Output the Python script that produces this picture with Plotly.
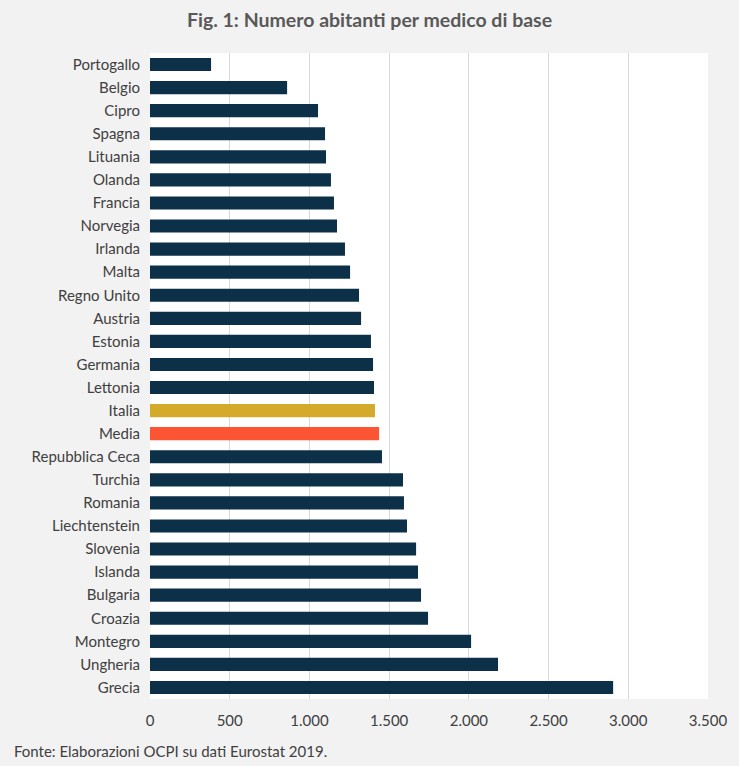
import plotly.graph_objects as go

countries = ["Portogallo", "Belgio", "Cipro", "Spagna", "Lituania", "Olanda", "Francia",
             "Norvegia", "Irlanda", "Malta", "Regno Unito", "Austria", "Estonia", "Germania",
             "Lettonia", "Italia", "Media", "Repubblica Ceca", "Turchia", "Romania",
             "Liechtenstein", "Slovenia", "Islanda", "Bulgaria", "Croazia", "Montegro",
             "Ungheria", "Grecia"]
values = [383, 860, 1054, 1098, 1104, 1135, 1154, 1173, 1223, 1255, 1311, 1324, 1386, 1399,
          1405, 1411, 1437, 1455, 1587, 1593, 1612, 1669, 1681, 1700, 1744, 2014, 2183, 2905]
tick_values = [0, 500, 1000, 1500, 2000, 2500, 3000, 3500]
tick_labels = ["0", "500", "1.000", "1.500", "2.000", "2.500", "3.000", "3.500"]

NAVY = "#0d3049"
GOLD = "#d4aa2a"
RED = "#fd5533"
colors = [GOLD if c == "Italia" else RED if c == "Media" else NAVY for c in countries]

fig = go.Figure(go.Bar(
    x=values, y=countries, orientation="h",
    marker=dict(color=colors, line=dict(width=0)),
    hoverinfo="x+y",
))

FONT = "Lato, 'Open Sans', sans-serif"
fig.update_layout(
    width=739, height=766,
    margin=dict(l=150, r=31, t=53, b=67),
    paper_bgcolor="#f2f2f2",
    plot_bgcolor="#ffffff",
    bargap=0.43,
    showlegend=False,
    font=dict(family=FONT, color="#404040", size=15),
    title=dict(text="<b>Fig. 1: Numero abitanti per medico di base</b>",
               x=0.5, xref="container", xanchor="center", y=1 - 20 / 766, yref="container",
               yanchor="middle",
               font=dict(family=FONT, size=19.5, color="#595959")),
)
fig.update_xaxes(range=[0, 3500], tickvals=tick_values, ticktext=tick_labels,
                 showgrid=True, gridcolor="#d9d9d9", gridwidth=1, zeroline=False,
                 showline=False, ticks="outside", ticklen=8, tickcolor="rgba(0,0,0,0)",
                 tickfont=dict(size=15, color="#404040"),
                 fixedrange=True)
fig.update_yaxes(categoryorder="array", categoryarray=countries, autorange="reversed",
                 showgrid=False, zeroline=False, showline=False, ticks="outside",
                 ticklen=6, tickcolor="rgba(0,0,0,0)",
                 tickfont=dict(size=15, color="#404040"), fixedrange=True)

fig.add_annotation(text="Fonte: Elaborazioni OCPI su dati Eurostat 2019.",
                   xref="paper", yref="paper", x=-138 / 558, y=-52 / 646,
                   xanchor="left", yanchor="middle", showarrow=False,
                   font=dict(family=FONT, size=15, color="#404040"))

fig.write_html("out.html", config={"displayModeBar": False},
               post_script="document.body.style.margin='0';")
